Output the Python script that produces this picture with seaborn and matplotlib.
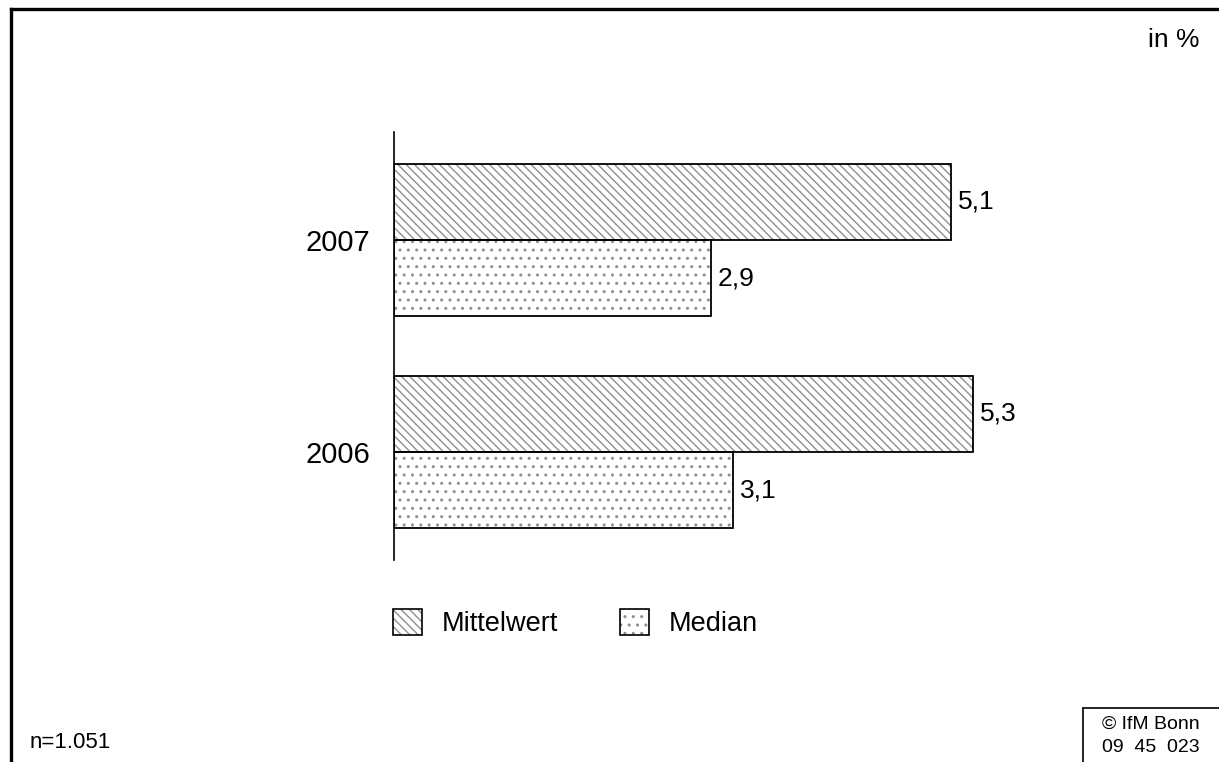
import pandas as pd
import seaborn as sns
import matplotlib.pyplot as plt
import matplotlib.colors as mcolors
from matplotlib.patches import Rectangle, Patch
from matplotlib.lines import Line2D

years = ["2007", "2006"]
series = ["Mittelwert", "Median"]
mittelwert = [5.1, 5.3]
median = [2.9, 3.1]

df = pd.DataFrame({
    "Jahr": years * 2,
    "Kennzahl": [series[0]] * 2 + [series[1]] * 2,
    "Wert": mittelwert + median,
})

sns.set_style("white")
plt.rcParams["font.family"] = ["Liberation Sans", "DejaVu Sans"]
plt.rcParams["text.color"] = "black"
plt.rcParams["ytick.color"] = "black"
plt.rcParams["hatch.linewidth"] = 1.0

hatch_gray = "#8f8f8f"
hatches = {"Mittelwert": "\\\\\\\\", "Median": ".."}

fig = plt.figure(figsize=(12.19, 7.62), dpi=100)
ax = fig.add_axes([0.3232, 0.2651, 0.6277, 0.5617])

sns.barplot(data=df, x="Wert", y="Jahr", hue="Kennzahl", order=years,
            hue_order=series, orient="h", width=0.72,
            palette=["white", "white"], edgecolor=hatch_gray, linewidth=0,
            legend=False, ax=ax)

# hatch each bar group, then draw black outlines on top
for cont, name in zip(ax.containers, series):
    for p in cont:
        p.set_hatch(hatches[name])
        ax.add_patch(Rectangle(p.get_xy(), p.get_width(), p.get_height(),
                               fill=False, ec="black", lw=1.3, zorder=3))
    ax.bar_label(cont, labels=[f"{v:.1f}".replace(".", ",") for v in cont.datavalues],
                 padding=5, fontsize=19)

ax.set_xlim(0, 7)
ax.set_ylim(1.51, -0.51)
ax.set_xlabel("")
ax.set_ylabel("")
ax.set_xticks([])
ax.tick_params(axis="y", length=0, pad=17, labelsize=21)
for s in ["top", "right", "bottom"]:
    ax.spines[s].set_visible(False)
ax.spines["left"].set_linewidth(1.2)
ax.spines["left"].set_color("black")

handles = [Patch(facecolor="white", edgecolor="black", hatch=hatches[s], lw=1.2)
           for s in series]
leg = fig.legend(handles, series, loc="center left", bbox_to_anchor=(0.3224, 0.1824),
                 ncol=2, frameon=False, fontsize=19.5, handlelength=1.07,
                 handleheight=1.07, handletextpad=0.74, columnspacing=2.26,
                 borderpad=0, borderaxespad=0)
for h in leg.legend_handles:
    h._hatch_color = mcolors.to_rgba(hatch_gray)

# outer frame (left and top only)
fig.add_artist(Line2D([0.0089, 0.0089], [0, 0.9882], color="black", lw=2.4,
                      transform=fig.transFigure, solid_capstyle="projecting"))
fig.add_artist(Line2D([0.0089, 1], [0.9882, 0.9882], color="black", lw=2.4,
                      transform=fig.transFigure, solid_capstyle="projecting"))

# copyright box bottom right
fig.add_artist(Line2D([0.8885, 0.8885], [0, 0.071], color="black", lw=1.2,
                      transform=fig.transFigure))
fig.add_artist(Line2D([0.8885, 1], [0.071, 0.071], color="black", lw=1.2,
                      transform=fig.transFigure))
fig.text(0.944, 0.0499, "\u00a9 IfM Bonn", ha="center", va="center", fontsize=14)
fig.text(0.944, 0.0184, "09  45  023", ha="center", va="center", fontsize=14)

fig.text(0.9836, 0.9475, "in %", ha="right", va="center", fontsize=19)
fig.text(0.0246, 0.025, "n=1.051", ha="left", va="center", fontsize=16)

fig.savefig("out.png", dpi=100)
